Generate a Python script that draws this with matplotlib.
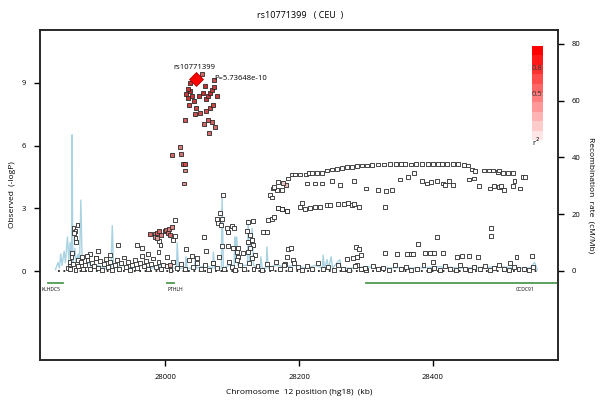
import numpy as np
import matplotlib
matplotlib.use("Agg")
import matplotlib.pyplot as plt
from matplotlib.colors import LinearSegmentedColormap

plt.rcParams['font.family'] = ['Open Sans', 'DejaVu Sans']

# lead snp
lead_pos = 28046
lead_logp = 9.19
lead_name = "rs10771399"
lead_p = "P=5.73648e-10"

# snp positions (kb), -log10 P, r2 with lead snp
top_pos = [28031, 28034, 28037, 28040, 28043, 28036, 28051, 28046, 28055, 28057,
           28061, 28064, 28067, 28070, 28073, 28073, 28052, 28061, 28067, 28072,
           28030, 28045, 28064, 28070, 28058, 28075, 28066, 28037, 28060, 28034, 28078]
top_logp = [8.48, 8.29, 8.62, 8.38, 8.14, 7.95, 8.38, 7.81, 9.43, 8.52,
            8.24, 8.38, 8.52, 8.67, 8.81, 9.14, 7.57, 7.67, 7.81, 7.95,
            7.24, 7.52, 7.24, 7.14, 7.05, 6.90, 6.62, 9.00, 8.86, 8.71, 8.38]
top_r2 = [0.9, 0.92, 0.95, 0.9, 0.88, 0.85, 0.93, 0.85, 0.7, 0.95,
          0.9, 0.92, 0.95, 0.9, 0.88, 0.8, 0.8, 0.82, 0.85, 0.85,
          0.75, 0.8, 0.75, 0.72, 0.7, 0.68, 0.65, 0.95, 0.95, 0.92, 0.9]

mid_pos = [28010, 28022, 28024, 28027, 28030, 28030, 28028,
           27978, 27985, 27988, 27991, 27994, 27999, 28001, 28004, 28006, 28007,
           28010, 27985, 27988, 28007, 28180, 28176]
mid_logp = [5.57, 5.95, 5.62, 5.14, 5.14, 4.81, 4.19,
            1.76, 1.76, 1.81, 1.90, 1.71, 1.90, 1.95, 1.81, 2.00, 1.71,
            2.10, 1.62, 1.57, 0.29, 4.10, 4.20]
mid_r2 = [0.7, 0.6, 0.65, 0.75, 0.8, 0.55, 0.5,
          0.7, 0.65, 0.75, 0.7, 0.6, 0.75, 0.7, 0.65, 0.6, 0.7,
          0.55, 0.5, 0.45, 0.35, 0.3, 0.25]

low_pos = [
    # left stack
    27863, 27869, 27866, 27864, 27866, 27867, 27861, 27860, 27857, 27858, 27855,
    27876, 27887, 27900, 27930, 27958, 27966, 27993, 27991, 28015, 28015, 28012,
    28031, 28003, 27870, 27883, 27896, 27918, 27975, 27990, 28040,
    # 28050-28170 cloud
    28087, 28082, 28078, 28085, 28079, 28084, 28093, 28100, 28103, 28094,
    28058, 28085, 28094, 28101, 28109, 28107, 28109, 28107, 28081, 28072,
    28124, 28131, 28122, 28127, 28124, 28130, 28131, 28127, 28124, 28134,
    28116, 28130, 28146, 28152, 28154, 28160, 28163, 28157, 28160, 28161,
    28167, 28163, 28175, 28169, 28169, 28175, 28182, 28184, 28188, 28182,
    28191, 28179, 28061, 28048,
    # upper arc
    28184, 28190, 28194, 28202, 28211, 28215, 28219, 28227, 28234, 28242,
    28249, 28257, 28264, 28272, 28279, 28287, 28294, 28302, 28309, 28318,
    28327, 28336, 28345, 28352, 28358, 28367, 28375, 28384, 28393, 28400,
    28408, 28414, 28421, 28430, 28437, 28447, 28452, 28458, 28463, 28476,
    28484, 28490, 28497, 28499, 28505, 28512, 28520, 28534, 28538,
    # second band
    28212, 28224, 28234, 28249, 28261, 28282, 28300, 28318, 28330, 28339,
    28351, 28363, 28372, 28384, 28391, 28397, 28406, 28415, 28418, 28424,
    28430, 28454, 28461, 28469, 28485, 28491, 28499, 28502, 28507, 28522,
    28520, 28530,
    # lower arc
    28169, 28175, 28182, 28202, 28205, 28209, 28216, 28224, 28231, 28242,
    28246, 28258, 28267, 28273, 28279, 28282, 28290, 28328,
    # mid level points right half
    28406, 28378, 28285, 28272, 28281, 28287, 28293, 28328, 28346, 28361,
    28367, 28370, 28388, 28396, 28402, 28400, 28415, 28436, 28443, 28454,
    28467, 28525, 28548, 28487, 28487, 28515, 28287, 28290,
    # near zero band
    27858, 27862, 27866, 27870, 27874, 27877, 27880, 27884, 27887, 27890,
    27893, 27896, 27899, 27902, 27906, 27909, 27912, 27915, 27918, 27921,
    27925, 27928, 27931, 27934, 27938, 27941, 27944, 27948, 27951, 27955,
    27958, 27962, 27965, 27968, 27972, 27975, 27979, 27982, 27986, 27990,
    27994, 27997, 28003, 28008, 28012, 28018, 28024, 28030, 28036, 28042,
    28048, 28054, 28060, 28066, 28072, 28078, 28088, 28096, 28100, 28105,
    28112, 28118, 28125, 28132, 28138, 28145, 28152, 28158, 28165, 28172,
    28178, 28186, 28193, 28198, 28205, 28212, 28220, 28228, 28236, 28244,
    28252, 28258, 28266, 28275, 28283, 28292, 28300, 28310, 28318, 28326,
    28335, 28343, 28352, 28360, 28368, 28377, 28386, 28394, 28402, 28410,
    28418, 28426, 28434, 28441, 28448, 28455, 28462, 28470, 28478, 28486,
    28492, 28499, 28506, 28514, 28521, 28528, 28536, 28544, 28550, 28299]
low_logp = [
    2.05, 2.19, 1.90, 1.81, 1.57, 1.38, 0.86, 0.67, 0.43, 0.24, 0.14,
    0.67, 0.81, 0.95, 1.24, 1.24, 1.10, 1.24, 1.43, 2.43, 1.67, 1.48,
    1.05, 0.67, 0.55, 0.70, 0.62, 0.75, 0.80, 0.90, 0.71,
    3.62, 2.76, 2.48, 2.48, 2.29, 2.19, 2.05, 2.14, 2.05, 1.86,
    1.62, 1.19, 1.19, 1.10, 1.10, 0.90, 0.67, 0.52, 0.67, 0.38,
    2.33, 2.38, 1.90, 1.71, 1.38, 1.48, 1.24, 1.10, 0.90, 0.76,
    0.86, 0.62, 1.86, 1.86, 2.43, 2.48, 2.57, 3.62, 3.52, 3.95,
    3.90, 4.00, 3.86, 4.24, 3.00, 2.95, 2.86, 1.05, 1.10, 0.67,
    0.52, 0.33, 0.95, 0.62,
    4.43, 4.62, 4.62, 4.62, 4.62, 4.67, 4.67, 4.67, 4.71, 4.81,
    4.86, 4.90, 4.95, 4.98, 5.00, 5.02, 5.05, 5.05, 5.08, 5.10,
    5.10, 5.12, 5.14, 5.14, 5.12, 5.10, 5.14, 5.14, 5.14, 5.14,
    5.12, 5.14, 5.14, 5.12, 5.12, 5.09, 5.05, 4.86, 4.80, 4.81,
    4.81, 4.81, 4.76, 4.81, 4.71, 4.71, 4.67, 4.52, 4.52,
    4.19, 4.19, 4.19, 4.33, 4.10, 4.30, 3.95, 3.90, 3.85, 3.90,
    4.38, 4.48, 4.67, 4.29, 4.19, 4.24, 4.33, 4.19, 4.10, 4.33,
    4.10, 4.38, 4.43, 4.05, 3.95, 4.05, 4.00, 4.05, 3.90, 4.29,
    4.05, 3.95,
    3.00, 2.95, 2.86, 3.05, 3.24, 2.95, 3.00, 3.05, 3.05, 3.14,
    3.14, 3.19, 3.19, 3.24, 3.14, 3.20, 3.05, 3.05,
    1.62, 1.29, 1.14, 0.57, 0.62, 0.67, 0.76, 0.86, 0.81, 0.81,
    0.81, 0.81, 0.86, 0.86, 0.86, 0.43, 0.86, 0.67, 0.71, 0.71,
    0.67, 0.67, 0.71, 2.05, 1.67, 0.38, 0.29, 1.05,
    0.10, 0.35, 0.05, 0.25, 0.45, 0.12, 0.30, 0.55, 0.08, 0.40,
    0.22, 0.62, 0.15, 0.48, 0.05, 0.33, 0.58, 0.18, 0.42, 0.07,
    0.28, 0.52, 0.12, 0.38, 0.65, 0.20, 0.45, 0.05, 0.30, 0.55,
    0.15, 0.40, 0.70, 0.22, 0.48, 0.08, 0.35, 0.60, 0.18, 0.42,
    0.10, 0.30, 0.25, 0.05, 0.45, 0.15, 0.35, 0.08, 0.55, 0.20,
    0.40, 0.10, 0.30, 0.05, 0.38, 0.15, 0.10, 0.45, 0.20, 0.05,
    0.30, 0.12, 0.40, 0.08, 0.25, 0.05, 0.35, 0.15, 0.45, 0.08,
    0.28, 0.10, 0.40, 0.20, 0.05, 0.25, 0.10, 0.38, 0.08, 0.20,
    0.05, 0.30, 0.12, 0.05, 0.22, 0.10, 0.05, 0.25, 0.08, 0.15,
    0.05, 0.30, 0.10, 0.20, 0.05, 0.12, 0.28, 0.05, 0.15, 0.05,
    0.22, 0.10, 0.05, 0.30, 0.12, 0.05, 0.20, 0.08, 0.25, 0.05,
    0.15, 0.30, 0.10, 0.05, 0.20, 0.08, 0.12, 0.05, 0.18, 0.14]

# recombination rate (cM/Mb)
rec_pos = [27836, 27840, 27842, 27844, 27846, 27849, 27851, 27854, 27856, 27858,
           27860, 27861, 27862, 27865, 27867, 27870, 27872, 27874, 27876, 27880,
           27886, 27890, 27900, 27910, 27919, 27921, 27923, 27935, 27950, 27965,
           27980, 27995, 28010, 28017, 28018, 28020, 28030, 28031, 28033, 28044,
           28045, 28047, 28060, 28071, 28072, 28074, 28084, 28085, 28087, 28095,
           28103, 28104, 28105, 28107, 28109, 28118, 28123, 28124, 28126, 28130,
           28132, 28142, 28143, 28145, 28151, 28152, 28154, 28165, 28180, 28195,
           28210, 28225, 28235, 28236, 28238, 28242, 28244, 28248, 28250, 28261,
           28263, 28280, 28300, 28320, 28350, 28380, 28410, 28440, 28470, 28500,
           28530, 28545, 28552, 28556]
rec_rate = [0.5, 3, 1, 6, 2, 7, 3, 12, 4, 10,
            2, 48, 2, 8, 3, 6, 2, 25, 3, 2,
            3, 1, 2, 1, 1, 16, 1, 2, 1, 2,
            1, 2, 1, 1, 10, 1, 1, 5, 1, 1,
            5, 1, 2, 1, 6.7, 1, 1, 27, 1, 2,
            2, 12, 3, 12, 2, 2, 2, 18, 3, 15,
            2, 1, 5, 1, 1, 8.5, 1, 2, 1.5, 2,
            1, 2, 1, 5.6, 1, 4, 1, 5, 1, 4,
            1, 1, 1.5, 1, 1.2, 1, 1.5, 1, 1.2, 1.5,
            1, 1, 3, 0.5]

genes = ["KLHDC5", "PTHLH", "CCDC91"]
gene_start = [27825, 28003, 28300]
gene_end = [27848, 28013, 28587]
gene_label_x = [27829, 28015, 28538]

cmap = LinearSegmentedColormap.from_list("ld", ["#ffffff", "#ff0000"])
pt_cmap = LinearSegmentedColormap.from_list("ldpt", ["#ffffff", "#c42424"])

fig = plt.figure(figsize=(6, 4.01), dpi=100)
ax = fig.add_axes([0.0667, 0.102, 0.8633, 0.823])
ax2 = ax.twinx()

ax2.plot(rec_pos, rec_rate, color="#a9d3e2", lw=1.0, zorder=1)
ax2.set_ylim(-31.4, 84.9)
ax2.set_yticks([0, 20, 40, 60, 80])

ax.set_zorder(ax2.get_zorder() + 1)
ax.patch.set_visible(False)

ax.plot([27840, 28560], [0, 0], color="#222222", ls=(0, (1, 2)), lw=1.3, zorder=2)

all_pos = low_pos + mid_pos + top_pos
all_logp = low_logp + mid_logp + top_logp
all_r2 = [0.02] * len(low_pos) + mid_r2 + top_r2
ax.scatter(all_pos, all_logp, marker="s", s=8, c=[pt_cmap(v) for v in all_r2],
           edgecolors="#2a2a2a", linewidths=0.6, zorder=3)
ax.scatter([lead_pos], [lead_logp], marker="D", s=50, color="#ff0000",
           edgecolors="#b00000", linewidths=0.6, zorder=4)
ax.text(lead_pos - 3, lead_logp + 0.55, lead_name, fontsize=5.5, ha="center", va="center")
ax.text(lead_pos + 27, lead_logp, lead_p, fontsize=5.5, ha="left", va="center")

for g, s, e, lx in zip(genes, gene_start, gene_end, gene_label_x):
    ax.plot([s, e], [-0.57, -0.57], color="#4f9a4f", lw=1.3, zorder=2, clip_on=True)
    ax.text(lx, -0.87, g, fontsize=3.6, ha="center", va="center")

ax.set_xlim(27813, 28587)
ax.set_ylim(-4.26, 11.53)
ax.set_yticks([0, 3, 6, 9])
ax.set_xticks([28000, 28200, 28400])

for a in (ax, ax2):
    a.tick_params(direction="out", length=4, width=1, labelsize=5.5, pad=6)
    for sp in a.spines.values():
        sp.set_linewidth(1.1)
        sp.set_color("#222222")

ax.set_ylabel("Observed  (-logP)", fontsize=6)
ax2.set_ylabel("Recombination  rate  (cM/Mb)", fontsize=6, rotation=270, labelpad=10)
ax.set_xlabel("Chromosome  12 position (hg18)  (kb)", fontsize=6, labelpad=6)
fig.text(0.5, 0.962, "rs10771399   ( CEU  )", fontsize=6.5, ha="center", va="center")

# r2 legend
cax = fig.add_axes([0.887, 0.651, 0.0167, 0.234])
levels = np.linspace(0.1, 1.0, 10)
cax.imshow(levels[::-1].reshape(-1, 1), cmap=cmap, vmin=0, vmax=1, aspect="auto")
cax.axis("off")
fig.text(0.895, 1 - 68 / 401, "0.8", fontsize=5.5, ha="center", va="center", color="#333333")
fig.text(0.895, 1 - 95 / 401, "0.5", fontsize=5.5, ha="center", va="center", color="#333333")
fig.text(0.893, 1 - 142 / 401, "r$^2$", fontsize=5.5, ha="center", va="center")

fig.savefig("out.png", dpi=100)
